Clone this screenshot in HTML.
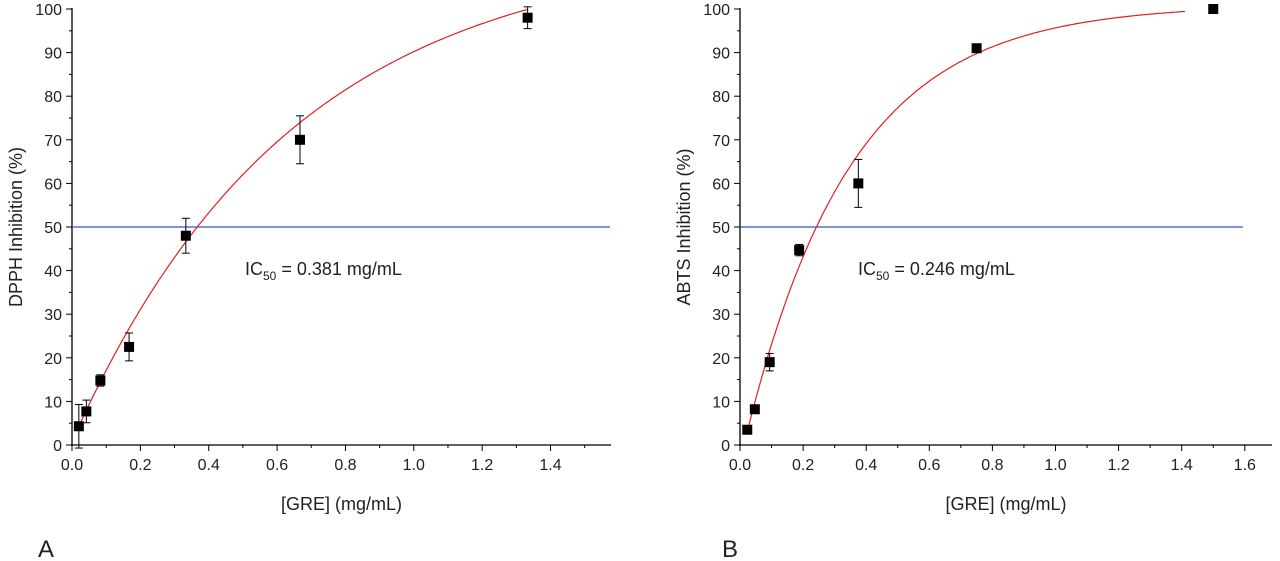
<!DOCTYPE html>
<html><head><meta charset="utf-8"><style>
body{margin:0;background:#fff;}
svg{display:block;font-family:"Liberation Sans",Arial,sans-serif;}
</style></head><body>
<svg id="chart" width="1280" height="561" xmlns="http://www.w3.org/2000/svg"></svg>
<script>
const aX=[0.02,0.042,0.083,0.167,0.333,0.667,1.333];
const aY=[4.3,7.7,14.8,22.5,48,70,98];
const aErr=[5,2.6,1.3,3.2,4,5.5,2.5];
const bX=[0.023,0.047,0.094,0.1875,0.375,0.75,1.5];
const bY=[3.5,8.2,19,44.7,60,91,100];
const bErr=[0,0,2,1.3,5.5,0,0];
const yTicks=[0,10,20,30,40,50,60,70,80,90,100];
const aTicks=["0.0","0.2","0.4","0.6","0.8","1.0","1.2","1.4"];
const bTicks=["0.0","0.2","0.4","0.6","0.8","1.0","1.2","1.4","1.6"];
const NS="http://www.w3.org/2000/svg";
const svg=document.getElementById('chart');
function el(t,a,txt){const e=document.createElementNS(NS,t);for(const k in a)e.setAttribute(k,a[k]);if(txt!==undefined)e.textContent=txt;svg.appendChild(e);return e;}
function panel(o){
 const sx=v=>o.x0+v*o.pu, sy=v=>445-v*4.36;
 let e=el('line',{x1:o.x0,y1:446,x2:o.x0,y2:8,stroke:'#000','stroke-width':1.3});
 
 e=el('line',{x1:o.x0-1,y1:445,x2:o.xEnd,y2:445,stroke:'#000','stroke-width':1.3});
 
 yTicks.forEach(v=>{
  el('line',{x1:o.x0-6,y1:sy(v),x2:o.x0,y2:sy(v),stroke:'#000'});
  el('line',{x1:o.x0-3,y1:sy(v+5),x2:o.x0,y2:sy(v+5),stroke:'#000'});
  const t=el('text',{x:o.x0-10,y:sy(v)+6,'text-anchor':'end','font-size':16,fill:'#222'},v);
  
 });
 o.ticks.forEach((s,i)=>{
  const v=i*0.2;
  el('line',{x1:sx(v),y1:445,x2:sx(v),y2:451,stroke:'#000'});
  if(sx(v+0.1)<=o.xEnd)el('line',{x1:sx(v+0.1),y1:445,x2:sx(v+0.1),y2:448,stroke:'#000'});
  const t=el('text',{x:sx(v),y:470,'text-anchor':'middle','font-size':16,fill:'#222'},s);
  
 });
 e=el('line',{x1:o.x0,y1:sy(50),x2:o.blueEnd,y2:sy(50),stroke:'#3355cc','stroke-width':1.2});
 
 let d='';
 for(let i=0;i<=200;i++){const x=o.c0+(o.c1-o.c0)*i/200;const y=o.y0+o.a*(1-Math.exp(-o.k*(x-o.c0)));d+=(i?'L':'M')+sx(x).toFixed(1)+','+sy(y).toFixed(1);}
 e=el('path',{d:d,fill:'none',stroke:'#e02020','stroke-width':1.2});
 
 o.xs.forEach((x,i)=>{
  const cx=sx(x),cy=sy(o.ys[i]),er=o.err[i];
  if(er>0){
   el('line',{x1:cx,y1:sy(o.ys[i]-er),x2:cx,y2:sy(o.ys[i]+er),stroke:'#000'});
   el('line',{x1:cx-4,y1:sy(o.ys[i]-er),x2:cx+4,y2:sy(o.ys[i]-er),stroke:'#000'});
   el('line',{x1:cx-4,y1:sy(o.ys[i]+er),x2:cx+4,y2:sy(o.ys[i]+er),stroke:'#000'});
  }
  const r=el('rect',{x:cx-5,y:cy-5,width:10,height:10,fill:'#000'});
  
 });
 let t=el('text',{x:(o.x0+o.xEnd)/2,y:510,'text-anchor':'middle','font-size':18,fill:'#222'},'[GRE] (mg/mL)');
 
 t=el('text',{x:0,y:0,transform:'translate('+(o.x0-50)+',227) rotate(-90)','text-anchor':'middle','font-size':18,fill:'#222'},o.ytitle);
 
 t=el('text',{x:o.icX,y:275,'font-size':18,fill:'#222'});
 t.innerHTML='IC<tspan font-size="12" dy="5">50</tspan><tspan dy="-5"> = '+o.ic+' mg/mL</tspan>';
 
 t=el('text',{x:o.lx,y:557,'font-size':24,fill:'#222'},o.letter);
 
}
panel({id:'panel-a',x0:72,pu:341.8,xEnd:611,blueEnd:610,ticks:aTicks,xs:aX,ys:aY,err:aErr,y0:4.3,a:110,k:1.55,c0:0.02,c1:1.333,ytitle:'DPPH Inhibition (%)',ic:'0.381',icX:245,letter:'A',lx:38});
panel({id:'panel-b',x0:740,pu:315.5,xEnd:1272,blueEnd:1243,ticks:bTicks,xs:bX,ys:bY,err:bErr,y0:3,a:98,k:2.98,c0:0.023,c1:1.41,ytitle:'ABTS Inhibition (%)',ic:'0.246',icX:858,letter:'B',lx:722});
</script>
</body></html>
